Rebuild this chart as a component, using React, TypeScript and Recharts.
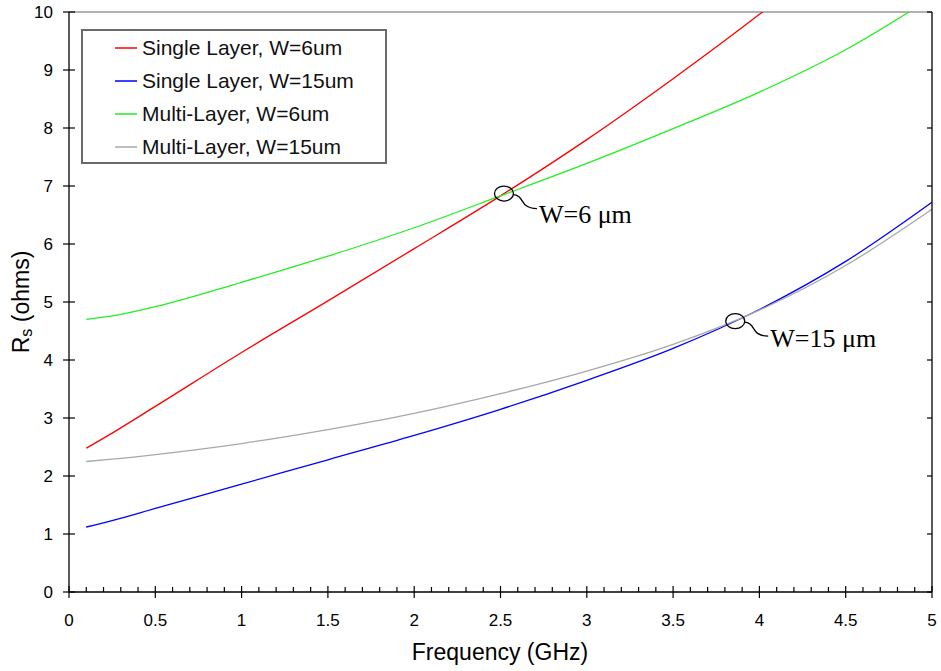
import React from 'react';
import {
  LineChart, Line, XAxis, YAxis, ReferenceLine, ReferenceDot, Legend
} from 'recharts';

// frequency points (GHz)
const FREQ = [0.1, 0.25, 0.5, 1, 1.5, 2, 2.5, 3, 3.5, 4, 4.5, 5];

// sheet resistance Rs (ohms)
const SINGLE_6 = [2.48, 2.74, 3.2, 4.13, 5.02, 5.92, 6.83, 7.8, 8.85, 9.96, 11.15, 12.4];
const SINGLE_15 = [1.12, 1.23, 1.44, 1.86, 2.28, 2.7, 3.15, 3.65, 4.2, 4.87, 5.7, 6.72];
const MULTI_6 = [4.7, 4.76, 4.92, 5.34, 5.79, 6.28, 6.83, 7.39, 7.99, 8.62, 9.35, 10.25];
const MULTI_15 = [2.25, 2.29, 2.37, 2.56, 2.8, 3.08, 3.42, 3.81, 4.27, 4.86, 5.63, 6.6];

const SERIES = [
  { key: 's6', name: 'Single Layer, W=6um', color: '#ff0000', values: SINGLE_6 },
  { key: 's15', name: 'Single Layer, W=15um', color: '#0000ff', values: SINGLE_15 },
  { key: 'm6', name: 'Multi-Layer, W=6um', color: '#22ee22', values: MULTI_6 },
  { key: 'm15', name: 'Multi-Layer, W=15um', color: '#a8a8a8', values: MULTI_15 },
];

// crossing points that get circled
const MARKS = [
  { f: 2.52, rs: 6.87, label: 'W=6 \u03bcm', dy: 29 },
  { f: 3.86, rs: 4.67, label: 'W=15 \u03bcm', dy: 26 },
];

const X_TICKS = Array.from({ length: 51 }, (_, i) => i / 10);
const Y_TICKS = [0, 1, 2, 3, 4, 5, 6, 7, 8, 9, 10];

const rows = FREQ.map((f, i) => {
  const r: any = { f };
  SERIES.forEach(s => { r[s.key] = s.values[i]; });
  return r;
});

const SANS = '"Liberation Sans", Arial, sans-serif';

const XTick = (props: any) => {
  const { x, y, payload } = props;
  const v = payload.value;
  const major = Math.abs(v * 2 - Math.round(v * 2)) < 1e-6;
  return (
    <g>
      <line x1={x} x2={x} y1={y - (major ? 6 : 5)} y2={major ? y + 6 : y} stroke="#000" strokeWidth={1.2} />
      {major && (
        <text x={x} y={y + 34} textAnchor="middle" fontFamily={SANS} fontSize={17} fill="#000">
          {String(Math.round(v * 10) / 10)}
        </text>
      )}
    </g>
  );
};

const YTick = (props: any) => {
  const { x, y, payload } = props;
  return (
    <g>
      <line x1={x - 6} x2={x + 6} y1={y} y2={y} stroke="#000" strokeWidth={1.2} />
      <text x={x - 16} y={y + 6} textAnchor="end" fontFamily={SANS} fontSize={17} fill="#000">
        {payload.value}
      </text>
    </g>
  );
};

const RightTick = (props: any) => {
  const { x, y } = props;
  return <line x1={x - 5} x2={x} y1={y} y2={y} stroke="#000" strokeWidth={1.2} />;
};

const markShape = (label: string, dy: number) => (props: any) => {
  const { cx, cy } = props;
  return (
    <g>
      <ellipse cx={cx} cy={cy} rx={9.5} ry={7.5} fill="none" stroke="#000" strokeWidth={1.3} />
      <path
        d={`M${cx + 9},${cy + 1} C${cx + 17},${cy + 1} ${cx + 18},${cy + 9} ${cx + 22},${cy + 12} S${cx + 29},${cy + 15} ${cx + 33},${cy + 15}`}
        fill="none" stroke="#000" strokeWidth={1.3}
      />
      <text x={cx + 35} y={cy + dy} fontFamily='"Liberation Serif", "Times New Roman", serif' fontSize={26} fill="#000">
        {label}
      </text>
    </g>
  );
};

const LegendBox = () => (
  <div style={{
    width: 306, height: 135, boxSizing: 'border-box', border: '2px solid #6a6a6a',
    background: '#fff', fontFamily: SANS, fontSize: 21, color: '#111'
  }}>
    {SERIES.map(s => (
      <div key={s.key} style={{ display: 'flex', alignItems: 'center', height: 33 }}>
        <svg width={54} height={4} style={{ display: 'block' }}>
          <line x1={32} x2={54} y1={2} y2={2} stroke={s.color} strokeWidth={1.5} />
        </svg>
        <span style={{ marginLeft: 5, whiteSpace: 'nowrap' }}>{s.name}</span>
      </div>
    ))}
  </div>
);

export default function App() {
  return (
    <div style={{ position: 'absolute', left: 0, top: 0, width: 941, height: 671, background: '#fff' }}>
      <LineChart width={941} height={671} data={rows} margin={{ top: 12, right: 0, bottom: 0, left: 0 }}>
        <XAxis
          dataKey="f" type="number" domain={[0, 5]} ticks={X_TICKS} interval={0}
          tickSize={0} tickMargin={0} tickLine={false} tick={<XTick />}
          axisLine={{ stroke: '#000', strokeWidth: 1.3 }} height={79} allowDataOverflow
        />
        <YAxis
          yAxisId="l" type="number" domain={[0, 10]} ticks={Y_TICKS} interval={0}
          tickSize={0} tickMargin={0} tickLine={false} tick={<YTick />}
          axisLine={{ stroke: '#000', strokeWidth: 1.3 }} width={69} allowDataOverflow
        />
        <YAxis
          yAxisId="r" orientation="right" type="number" domain={[0, 10]} ticks={Y_TICKS} interval={0}
          tickSize={0} tickMargin={0} tickLine={false} tick={<RightTick />}
          axisLine={{ stroke: '#000', strokeWidth: 1.3 }} width={9} allowDataOverflow
        />
        <ReferenceLine yAxisId="l" y={10} stroke="#999" strokeWidth={1.3} />
        {SERIES.map(s => (
          <Line
            key={s.key} yAxisId="l" dataKey={s.key} name={s.name} type="monotone"
            stroke={s.color} strokeWidth={1.3} dot={false} isAnimationActive={false}
          />
        ))}
        {MARKS.map(m => (
          <ReferenceDot
            key={m.label} yAxisId="l" x={m.f} y={m.rs} r={9}
            shape={markShape(m.label, m.dy)}
          />
        ))}
        <Legend
          layout="vertical" align="center" verticalAlign="middle"
          wrapperStyle={{ left: 81, top: 29, width: 306, height: 135 }}
          content={<LegendBox />}
        />
      </LineChart>
      <div style={{
        position: 'absolute', left: 500, top: 641, transform: 'translateX(-50%)',
        fontFamily: SANS, fontSize: 23, lineHeight: '23px', color: '#000', whiteSpace: 'nowrap'
      }}>
        Frequency (GHz)
      </div>
      <div style={{
        position: 'absolute', left: 22, top: 302, transform: 'translate(-50%, -50%) rotate(-90deg)',
        fontFamily: SANS, fontSize: 23, lineHeight: '23px', color: '#000', whiteSpace: 'nowrap'
      }}>
        R<span style={{ fontSize: 16, position: 'relative', top: 3 }}>s</span> (ohms)
      </div>
    </div>
  );
}
